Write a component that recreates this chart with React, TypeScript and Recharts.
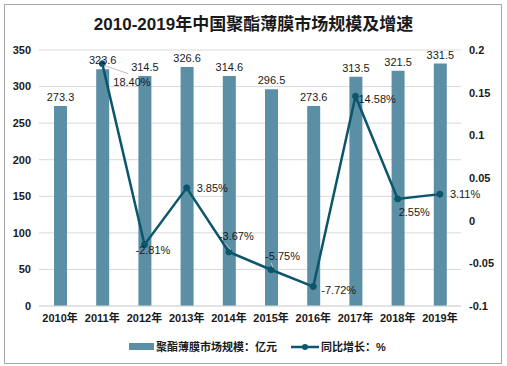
import {
  Bar,
  CartesianGrid,
  ComposedChart,
  LabelList,
  Line,
  XAxis,
  YAxis,
} from 'recharts'

const years = ['2010年', '2011年', '2012年', '2013年', '2014年', '2015年', '2016年', '2017年', '2018年', '2019年']
const marketSize = [273.3, 323.6, 314.5, 326.6, 314.6, 296.5, 273.6, 313.5, 321.5, 331.5]
const growthRate = [null, 0.184, -0.0281, 0.0385, -0.0367, -0.0575, -0.0772, 0.1458, 0.0255, 0.0311]
const leftTicks = [0, 50, 100, 150, 200, 250, 300, 350]
const rightTicks = [-0.1, -0.05, 0, 0.05, 0.1, 0.15, 0.2]

// where each growth label sits relative to its point (dx, dy, leader line)
const labelOffsets: [number, number, boolean][] = [
  [0, 0, false],
  [11, 18, true],
  [-9, 6, false],
  [10, 0, false],
  [-10, -16, true],
  [-6, -14, true],
  [8, 4, false],
  [3, 3, false],
  [1, 13, false],
  [10, 0, false],
]

const data = years.map((year, i) => ({
  year,
  size: marketSize[i],
  rate: growthRate[i],
}))

const FONT = "'Liberation Sans', 'Noto Sans CJK SC', sans-serif"
const BAR_COLOR = '#5b8fa6'
const LINE_COLOR = '#0c566b'

const tickStyle = { fontSize: 11, fontWeight: 700, fill: '#1a1a1a', fontFamily: FONT }

function RateLabel(props: any) {
  const { x, y, index, value } = props
  if (value == null) return null
  const [dx, dy, leader] = labelOffsets[index]
  return (
    <g>
      {leader && (
        <line
          x1={x + 2}
          y1={y + (dy > 0 ? 2 : -2)}
          x2={x + dx + (dy > 0 ? 15 : 6)}
          y2={y + dy + (dy > 0 ? -8 : 7)}
          stroke="#bfbfbf"
          strokeWidth={1}
        />
      )}
      <text
        x={x + dx}
        y={y + dy}
        dy="0.35em"
        textAnchor="start"
        fontSize={11}
        fill="#1a1a1a"
        fontFamily={FONT}
      >
        {(value * 100).toFixed(2) + '%'}
      </text>
    </g>
  )
}

export default function App() {
  return (
    <div
      style={{
        position: 'fixed',
        left: 0,
        top: 0,
        width: 507,
        height: 366,
        background: '#fff',
        fontFamily: FONT,
      }}
    >
      <div
        style={{
          position: 'absolute',
          left: 4,
          top: 4,
          width: 496,
          height: 358,
          border: '1px solid #a6a6a6',
        }}
      />
      <div
        style={{
          position: 'absolute',
          left: 0,
          width: 507,
          top: 13,
          textAlign: 'center',
          fontSize: 17,
          fontWeight: 700,
          color: '#1a1a1a',
          lineHeight: '24px',
        }}
      >
        2010-2019年中国聚酯薄膜市场规模及增速
      </div>
      <ComposedChart
        width={507}
        height={366}
        data={data}
        margin={{ top: 50, right: 0, bottom: 40, left: 0 }}
        style={{ position: 'absolute', left: 0, top: 0 }}
      >
        <CartesianGrid vertical={false} stroke="#d9d9d9" yAxisId="left" />
        <XAxis
          dataKey="year"
          axisLine={{ stroke: '#d9d9d9' }}
          tickLine={false}
          tick={tickStyle}
          interval={0}
          height={20}
        />
        <YAxis
          yAxisId="left"
          domain={[0, 350]}
          ticks={leftTicks}
          width={39}
          axisLine={false}
          tickLine={false}
          tick={tickStyle}
        />
        <YAxis
          yAxisId="right"
          orientation="right"
          domain={[-0.1, 0.2]}
          ticks={rightTicks}
          width={46}
          axisLine={false}
          tickLine={false}
          tick={{ ...tickStyle, textAnchor: 'start' }}
          tickFormatter={(v: number) => String(Number(v.toFixed(2)))}
        />
        <Bar yAxisId="left" dataKey="size" fill={BAR_COLOR} barSize={13} isAnimationActive={false}>
          <LabelList
            dataKey="size"
            position="top"
            style={{ fontSize: 11, fill: '#1a1a1a', fontFamily: FONT }}
          />
        </Bar>
        <Line
          yAxisId="right"
          dataKey="rate"
          stroke={LINE_COLOR}
          strokeWidth={2.5}
          dot={{ r: 3, fill: LINE_COLOR, stroke: LINE_COLOR, strokeWidth: 1 }}
          isAnimationActive={false}
        >
          <LabelList dataKey="rate" content={RateLabel} />
        </Line>
      </ComposedChart>
      <div
        style={{
          position: 'absolute',
          top: 339,
          left: 0,
          width: 507,
          height: 16,
          fontSize: 11,
          fontWeight: 700,
          color: '#1a1a1a',
        }}
      >
        <div style={{ position: 'absolute', left: 129, top: 4, width: 25, height: 7, background: BAR_COLOR }} />
        <div style={{ position: 'absolute', left: 156, top: 0, lineHeight: '16px', whiteSpace: 'nowrap' }}>
          聚酯薄膜市场规模：亿元
        </div>
        <svg style={{ position: 'absolute', left: 290, top: 0 }} width={30} height={16}>
          <line x1={1} y1={8} x2={29} y2={8} stroke={LINE_COLOR} strokeWidth={2.5} />
          <circle cx={15} cy={8} r={3} fill={LINE_COLOR} />
        </svg>
        <div style={{ position: 'absolute', left: 321, top: 0, lineHeight: '16px', whiteSpace: 'nowrap' }}>
          同比增长：%
        </div>
      </div>
    </div>
  )
}
